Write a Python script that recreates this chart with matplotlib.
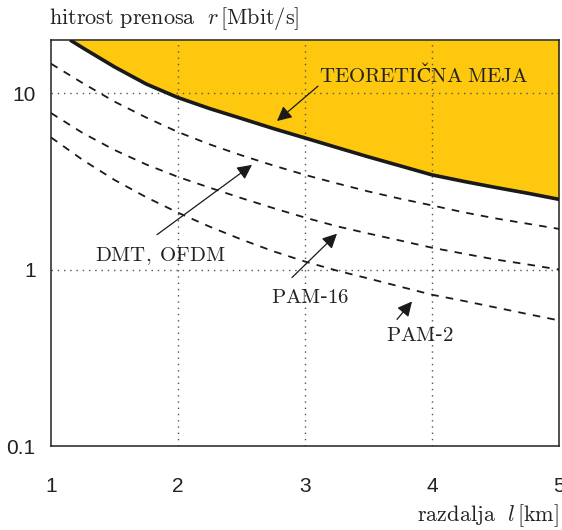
import matplotlib
matplotlib.use("Agg")
import matplotlib.pyplot as plt

plt.rcParams["mathtext.fontset"] = "cm"
plt.rcParams["axes.unicode_minus"] = False

# distance l [km] and bit rates r [Mbit/s]
dist = [1.0, 1.25, 1.5, 1.75, 2.0, 2.25, 2.5, 2.75, 3.0,
        3.25, 3.5, 3.75, 4.0, 4.25, 4.5, 4.75, 5.0]
rate_dmt = [14.68, 11.39, 8.95, 7.27, 6.02, 5.12, 4.44, 3.89, 3.44,
            3.08, 2.77, 2.52, 2.31, 2.11, 1.95, 1.82, 1.70]
rate_pam16 = [7.71, 5.94, 4.76, 3.94, 3.35, 2.91, 2.54, 2.23, 1.97,
              1.76, 1.60, 1.46, 1.33, 1.23, 1.14, 1.07, 1.00]
rate_pam2 = [5.61, 4.18, 3.22, 2.57, 2.10, 1.75, 1.48, 1.27, 1.11,
             0.987, 0.89, 0.80, 0.72, 0.664, 0.61, 0.56, 0.515]

limit_dist = [1.15, 1.25, 1.5, 1.75, 2.0, 2.25, 2.5, 2.75, 3.0,
              3.25, 3.5, 3.75, 4.0, 4.25, 4.5, 4.75, 5.0]
limit_rate = [20.0, 18.05, 14.08, 11.26, 9.43, 8.17, 7.18, 6.30, 5.57,
              4.92, 4.35, 3.87, 3.44, 3.16, 2.92, 2.71, 2.50]

x_ticks = [1, 2, 3, 4, 5]
y_ticks = [0.1, 1, 10]
y_tick_labels = ["0.1", "1", "10"]
y_min, y_max = 0.1, 20.0

sans = ["Liberation Sans", "DejaVu Sans"]
ink = "#222222"

fig = plt.figure(figsize=(5.62, 5.30), dpi=100)
ax = fig.add_axes([51 / 562, 84 / 530, 508 / 562, 406 / 530])
ax.set_yscale("log")
ax.set_xlim(1, 5)
ax.set_ylim(y_min, y_max)

# region above the theoretical limit
ax.fill_between(limit_dist, limit_rate, y_max, color="#FDC80E", lw=0, zorder=1)

# grid
grid_kw = dict(color="#555555", lw=1.0, linestyle=(0, (1, 3.5)), zorder=2)
for xv in x_ticks[1:]:
    ax.axvline(xv, **grid_kw)
for yv in y_ticks[1:]:
    ax.axhline(yv, **grid_kw)

# curves
ax.plot(limit_dist, limit_rate, color="#1a1a1a", lw=2.6, zorder=4,
        solid_capstyle="butt", solid_joinstyle="round")
for r in (rate_dmt, rate_pam16, rate_pam2):
    ax.plot(dist, r, color="#1a1a1a", lw=1.3, dashes=(4.2, 4), zorder=3)

ax.set_xticks(x_ticks)
ax.set_xticklabels([str(v) for v in x_ticks])
ax.set_yticks(y_ticks)
ax.set_yticklabels(y_tick_labels)
ax.minorticks_off()
ax.tick_params(axis="both", length=0, labelsize=15)
ax.tick_params(axis="x", pad=22)
ax.tick_params(axis="y", pad=11)
for lab in ax.get_xticklabels() + ax.get_yticklabels():
    lab.set_family(sans)
    lab.set_color(ink)

for side in ("left", "bottom", "top", "right"):
    ax.spines[side].set_linewidth(1.1)
    ax.spines[side].set_color(ink)

# axis titles
fig.text(49 / 562, 1 - 18 / 530,
         r"$\mathrm{hitrost\ prenosa}\ \ r\,[\mathrm{Mbit/s}]$",
         fontsize=16, ha="left", va="center", color=ink)
fig.text(417 / 562, 1 - 516 / 530, r"$\mathrm{razdalja}\ \ l\,[\mathrm{km}]$",
         fontsize=16, ha="left", va="center", color=ink)

# annotations
arrow = dict(arrowstyle="-|>", color="#1a1a1a", lw=0.9,
             mutation_scale=22, shrinkA=0, shrinkB=0)


def px_to_data(px, py):
    return (1 + (px - 51) / 127.0, 10 ** (1 - (py - 93) / 177.0))


labels = [
    ("$\\mathrm{TEORETI\u010cNA\\ MEJA}$", (424, 74), (318, 86), (277, 121)),
    (r"$\mathrm{DMT,\;OFDM}$", (160, 256), (157, 235), (252, 165)),
    (r"$\mathrm{PAM}$-$\mathrm{16}$", (310, 298), (292, 278), (337, 234)),
    (r"$\mathrm{PAM}$-$\mathrm{2}$", (420, 336), (397, 320), (412, 302)),
]
for text, tpos, start, tip in labels:
    ax.annotate("", xy=px_to_data(*tip), xytext=px_to_data(*start),
                arrowprops=arrow, zorder=6)
    ax.text(*px_to_data(*tpos), text, ha="center", va="center",
            fontsize=15, color=ink, zorder=6)

fig.savefig("out.png", dpi=100)
